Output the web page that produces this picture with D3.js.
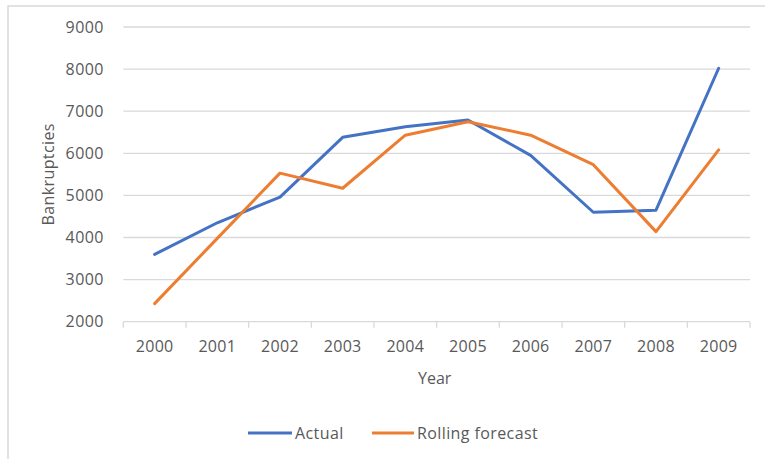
<!DOCTYPE html>
<html>
<head>
<meta charset="utf-8">
<script src="https://cdn.jsdelivr.net/npm/d3@7"></script>
<style>
  html, body { margin: 0; padding: 0; background: #fff; }
  svg { display: block; font-family: "Open Sans", "Liberation Sans", sans-serif; }
</style>
</head>
<body>
<svg id="chart" width="765" height="459"></svg>
<script>
// Annual bankruptcies: actual counts vs. rolling forecast
const years = ["2000", "2001", "2002", "2003", "2004", "2005", "2006", "2007", "2008", "2009"];
const actual = [3600, 4350, 4960, 6380, 6630, 6790, 5950, 4600, 4650, 8020];
const rollingForecast = [2430, 3980, 5530, 5170, 6430, 6750, 6430, 5730, 4140, 6080];
const yTicks = [2000, 3000, 4000, 5000, 6000, 7000, 8000, 9000];
const seriesNames = ["Actual", "Rolling forecast"];
const seriesColors = ["#4472c4", "#ed7d31"];

const svg = d3.select("#chart");
const textColor = "#595959";
const gridColor = "#d9d9d9";

// outer chart frame
svg.append("rect")
  .attr("x", 8).attr("y", 6)
  .attr("width", 780).attr("height", 470)
  .attr("fill", "#fff")
  .attr("stroke", gridColor).attr("stroke-width", 1.5);

const plot = { left: 123.3, right: 750, top: 27, bottom: 321.7 };

const x = d3.scaleBand().domain(years).range([plot.left, plot.right]);
const y = d3.scaleLinear().domain([2000, 9000]).range([plot.bottom, plot.top]);

// horizontal gridlines
svg.append("g")
  .selectAll("line")
  .data(yTicks.filter(t => t !== 2000))
  .join("line")
  .attr("x1", plot.left).attr("x2", plot.right)
  .attr("y1", d => y(d)).attr("y2", d => y(d))
  .attr("stroke", gridColor).attr("stroke-width", 1.3);

// y axis labels
const yAxis = d3.axisLeft(y).tickValues(yTicks).tickSize(0).tickPadding(0).tickFormat(d3.format("d"));
const gy = svg.append("g").attr("transform", `translate(${plot.left - 19.5},0)`).call(yAxis);
gy.select(".domain").remove();
gy.selectAll("text")
  .attr("fill", textColor)
  .attr("font-size", 16)
  .attr("font-family", "'Open Sans', sans-serif")
  .attr("letter-spacing", 0.4);

// x axis with category boundary ticks
svg.append("line")
  .attr("x1", plot.left).attr("x2", plot.right)
  .attr("y1", plot.bottom).attr("y2", plot.bottom)
  .attr("stroke", gridColor).attr("stroke-width", 1.3);
const boundaries = years.map(d => x(d)).concat([x(years[years.length - 1]) + x.bandwidth()]);
svg.append("g")
  .selectAll("line")
  .data(boundaries)
  .join("line")
  .attr("x1", d => d).attr("x2", d => d)
  .attr("y1", plot.bottom).attr("y2", plot.bottom + 6)
  .attr("stroke", gridColor).attr("stroke-width", 1.3);

const xAxis = d3.axisBottom(x).tickSize(0).tickPadding(0);
const gx = svg.append("g").attr("transform", `translate(0,${plot.bottom + 30})`).call(xAxis);
gx.select(".domain").remove();
gx.selectAll("text")
  .attr("dy", 0)
  .attr("fill", textColor)
  .attr("font-size", 16)
  .attr("font-family", "'Open Sans', sans-serif")
  .attr("letter-spacing", 0.3);

// axis titles
svg.append("text")
  .attr("x", (plot.left + plot.right) / 2 - 2)
  .attr("y", 384)
  .attr("text-anchor", "middle")
  .attr("fill", textColor)
  .attr("font-size", 16)
  .text("Year");

svg.append("text")
  .attr("transform", `translate(54,${(plot.top + plot.bottom) / 2}) rotate(-90)`)
  .attr("text-anchor", "middle")
  .attr("fill", textColor)
  .attr("font-size", 16)
  .attr("letter-spacing", 0.4)
  .text("Bankruptcies");

// series lines
const line = d3.line()
  .x((d, i) => x(years[i]) + x.bandwidth() / 2)
  .y(d => y(d));

[actual, rollingForecast].forEach((values, i) => {
  svg.append("path")
    .datum(values)
    .attr("d", line)
    .attr("fill", "none")
    .attr("stroke", seriesColors[i])
    .attr("stroke-width", 3)
    .attr("stroke-linejoin", "round")
    .attr("stroke-linecap", "round");
});

// legend
const legendItems = [
  { x0: 248, x1: 292, tx: 295 },
  { x0: 372, x1: 414, tx: 417 }
];
const legend = svg.append("g");
seriesNames.forEach((name, i) => {
  const it = legendItems[i];
  legend.append("line")
    .attr("x1", it.x0).attr("x2", it.x1)
    .attr("y1", 433).attr("y2", 433)
    .attr("stroke", seriesColors[i]).attr("stroke-width", 3);
  legend.append("text")
    .attr("x", it.tx).attr("y", 439)
    .attr("fill", textColor)
    .attr("font-size", 16)
    .attr("letter-spacing", 0.4)
    .text(name);
});
</script>
</body>
</html>
